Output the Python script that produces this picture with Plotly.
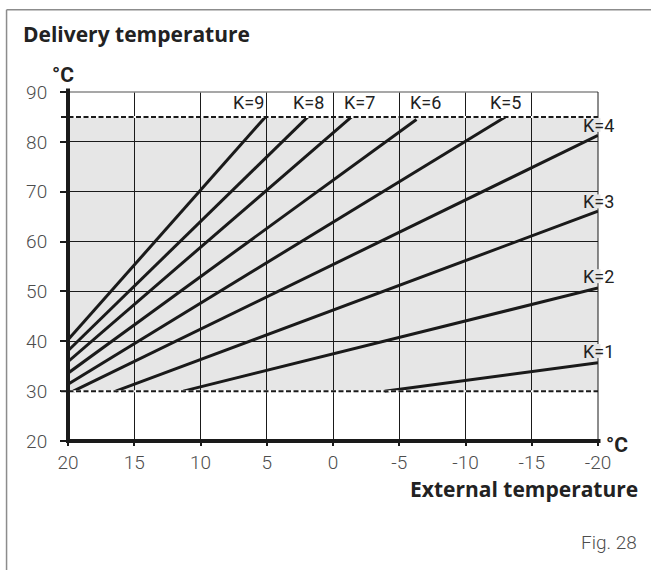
import plotly.graph_objects as go

# Heating curves: flow (delivery) temperature vs outdoor temperature for each slope K
k_values = [1, 2, 3, 4, 5, 6, 7, 8, 9]
start_ext = [-3.9, 11.3, 16.4, 19.6, 20, 20, 20, 20, 20]
start_flow = [30, 30, 30, 30, 31.4, 33.6, 35.9, 38.1, 40.3]
end_ext = [-20, -20, -20, -20, -13.0, -6.3, -1.4, 1.9, 5.1]
end_flow = [35.7, 50.7, 66.1, 81.3, 85, 84.5, 85, 85, 85]

# Flow temperature limits (min / max)
flow_min = 30
flow_max = 85

x_ticks = [20, 15, 10, 5, 0, -5, -10, -15, -20]
x_tick_text = ["20", "15", "10", "5", "0", "-5", "-10", "-15", "-20"]
y_ticks = [20, 30, 40, 50, 60, 70, 80, 90]

FONT = "Roboto"
TITLE_FONT = "Open Sans"
INK = "#1a1a1a"
GREY_TXT = "#4d4d4d"
BAND = "#e6e6e6"

# plot area in pixels
W, H = 651, 570
L, R, T, B = 68, 52.5, 91.5, 128.5
PW = W - L - R
PH = H - T - B


def px_x(px):
    return (px - L) / PW


def px_y(py):
    return (H - B - py) / PH


fig = go.Figure()

for k, x0, y0, x1, y1 in zip(k_values, start_ext, start_flow, end_ext, end_flow):
    fig.add_trace(go.Scatter(
        x=[x0, x1], y=[y0, y1], mode="lines",
        line=dict(color=INK, width=3),
        name=f"K={k}", showlegend=False, hoverinfo="skip",
    ))

shapes = []
# working band between min and max flow temperature
shapes.append(dict(type="rect", xref="x", yref="y", x0=20, x1=-20,
                   y0=flow_min, y1=flow_max, fillcolor=BAND,
                   line=dict(width=0), layer="below"))
# limit lines (dashed), starting at the tick position left of the axis
for yv in (flow_min, flow_max):
    shapes.append(dict(type="line", xref="paper", yref="y",
                       x0=px_x(L - 7), x1=1, y0=yv, y1=yv,
                       line=dict(color="white", width=2)))
    shapes.append(dict(type="line", xref="paper", yref="y",
                       x0=px_x(L - 7), x1=1, y0=yv, y1=yv,
                       line=dict(color=INK, width=2, dash="5px,2.5px")))
# top edge (grey) and right edge
shapes.append(dict(type="line", xref="paper", yref="paper", x0=0, x1=1,
                   y0=1, y1=1, line=dict(color="#8a8a8a", width=1.5)))
shapes.append(dict(type="line", xref="paper", yref="paper", x0=1, x1=1,
                   y0=0, y1=1, line=dict(color=INK, width=1)))
# heavy axes
shapes.append(dict(type="line", xref="paper", yref="paper", x0=0, x1=0,
                   y0=px_y(H - B + 2), y1=px_y(88), line=dict(color=INK, width=4)))
shapes.append(dict(type="line", xref="paper", yref="paper", x0=px_x(L - 2),
                   x1=px_x(601), y0=0, y1=0, line=dict(color=INK, width=4)))
# frame around the figure
shapes.append(dict(type="line", xref="paper", yref="paper", x0=px_x(6.5),
                   x1=px_x(6.5), y0=px_y(9), y1=px_y(575),
                   line=dict(color="#8c8c8c", width=1.5)))
shapes.append(dict(type="line", xref="paper", yref="paper", x0=px_x(6.5),
                   x1=px_x(660), y0=px_y(9), y1=px_y(9),
                   line=dict(color="#8c8c8c", width=1.5)))

annotations = []
label_font = dict(family=FONT, size=18, color="#222222")
# K labels along the top limit
top_labels = [(9, 5.05, "right"), (8, 0.55, "right"), (7, -0.65, "left"),
              (6, -7.0, "center"), (5, -13.0, "center")]
for k, xv, anchor in top_labels:
    annotations.append(dict(x=xv, y=87.8, xref="x", yref="y", text=f"K={k}",
                            showarrow=False, xanchor=anchor, yanchor="middle",
                            font=label_font))
# K labels at the right edge; the edge line is interrupted behind each label
right_labels = [(4, 125.0), (3, 201.7), (2, 276.7), (1, 351.7)]
for k, py in right_labels:
    shapes.append(dict(type="rect", xref="paper", yref="paper",
                       x0=px_x(596), x1=px_x(601), y0=px_y(py - 7.5),
                       y1=px_y(py + 6.5), fillcolor=BAND, line=dict(width=0)))
    annotations.append(dict(x=px_x(599.5), y=px_y(py), xref="paper", yref="paper",
                            text=f"K={k}", showarrow=False, xanchor="center",
                            yanchor="middle", font=label_font))

bold = dict(family=TITLE_FONT, size=21, color="#222222", weight="bold")
unit_font = dict(family=FONT, size=21, color="#222222", weight="bold")
annotations += [
    dict(x=px_x(20.5), y=px_y(33), xref="paper", yref="paper",
         text="Delivery temperature", showarrow=False, xanchor="left",
         yanchor="middle", font=bold),
    dict(x=px_x(62.7), y=px_y(74), xref="paper", yref="paper", text="°C",
         showarrow=False, xanchor="center", yanchor="middle", font=unit_font),
    dict(x=px_x(618), y=px_y(446), xref="paper", yref="paper", text="°C",
         showarrow=False, xanchor="center", yanchor="middle", font=unit_font),
    dict(x=px_x(640.5), y=px_y(490), xref="paper", yref="paper",
         text="External temperature", showarrow=False, xanchor="right",
         yanchor="middle", font=bold),
    dict(x=px_x(640), y=px_y(543), xref="paper", yref="paper", text="Fig. 28",
         showarrow=False, xanchor="right", yanchor="middle",
         font=dict(family=FONT, size=19, color=GREY_TXT, weight=300)),
]

tick_font = dict(family=FONT, size=19, color=GREY_TXT, weight=300)

fig.update_layout(
    width=W, height=H,
    margin=dict(l=L, r=R, t=T, b=B, pad=0),
    paper_bgcolor="white", plot_bgcolor="white",
    shapes=shapes, annotations=annotations,
    xaxis=dict(range=[20, -20], autorange=False, tickvals=x_ticks,
               ticktext=x_tick_text, showgrid=True, gridcolor=INK,
               gridwidth=1, zeroline=False, showline=False, ticks="outside",
               ticklen=4, tickwidth=1.5, tickcolor=INK, tickfont=tick_font,
               ticklabelstandoff=0),
    yaxis=dict(range=[20, 90], autorange=False, tickvals=y_ticks,
               showgrid=True, gridcolor=INK, gridwidth=1, zeroline=False,
               showline=False, ticks="outside", ticklen=7, tickwidth=1.5,
               tickcolor=INK, tickfont=tick_font, ticklabelstandoff=9),
    showlegend=False,
)

fig.write_html("out.html")
